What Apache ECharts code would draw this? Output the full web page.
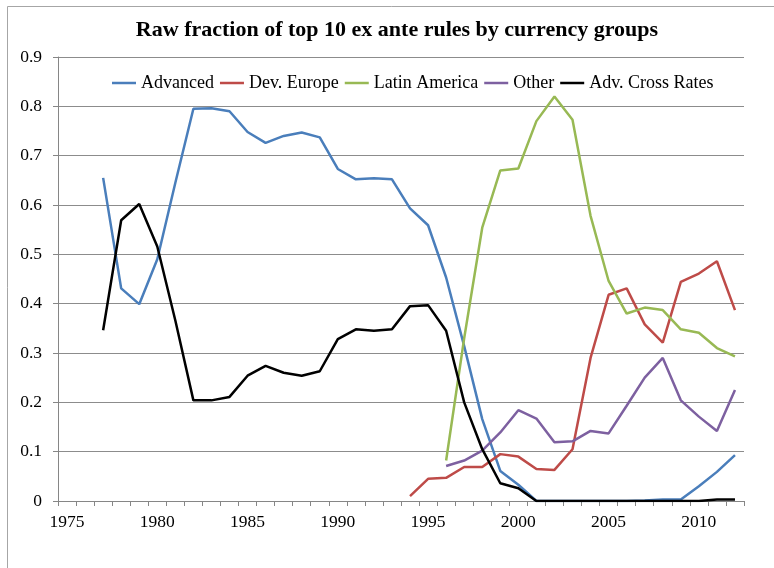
<!DOCTYPE html>
<html>
<head>
<meta charset="utf-8">
<script src="https://cdn.jsdelivr.net/npm/echarts@6/dist/echarts.min.js"></script>
<style>
  html, body { margin: 0; padding: 0; background: #fff; }
  #chart { width: 774px; height: 568px; }
</style>
</head>
<body>
<div id="chart"></div>
<script>
// years on the category axis
const years = [];
for (let y = 1975; y <= 2012; y++) years.push(String(y));

// values, 1975..2012 (null = no data)
const advanced = [null, null, 0.655, 0.431, 0.399, 0.49, 0.645, 0.795, 0.796, 0.79, 0.748, 0.726, 0.74, 0.747, 0.737,
  0.673, 0.652, 0.654, 0.652, 0.593, 0.559, 0.453, 0.314, 0.166, 0.061, 0.033, 0, 0, 0, 0, 0, 0, 0.001, 0.003, 0.003,
  0.03, 0.059, 0.093];
const devEurope = [null, null, null, null, null, null, null, null, null, null, null, null, null, null, null,
  null, null, null, null, 0.01, 0.045, 0.047, 0.069, 0.069, 0.095, 0.09, 0.065, 0.063, 0.105, 0.29, 0.418, 0.431,
  0.358, 0.321, 0.444, 0.461, 0.486, 0.387];
const latinAmerica = [null, null, null, null, null, null, null, null, null, null, null, null, null, null, null,
  null, null, null, null, null, null, 0.082, 0.33, 0.554, 0.67, 0.674, 0.77, 0.82, 0.773, 0.578, 0.446, 0.38,
  0.392, 0.387, 0.348, 0.341, 0.31, 0.293];
const other = [null, null, null, null, null, null, null, null, null, null, null, null, null, null, null,
  null, null, null, null, null, null, 0.071, 0.082, 0.102, 0.139, 0.184, 0.167, 0.119, 0.121, 0.142, 0.137, 0.193,
  0.25, 0.29, 0.204, 0.171, 0.142, 0.225];
const crossRates = [null, null, 0.346, 0.569, 0.602, 0.516, 0.366, 0.204, 0.204, 0.211, 0.254, 0.274, 0.26, 0.254,
  0.263, 0.328, 0.348, 0.345, 0.348, 0.395, 0.397, 0.345, 0.2, 0.105, 0.036, 0.026, 0, 0, 0, 0, 0, 0, 0, 0, 0, 0,
  0.003, 0.003];

const seriesNames = ["Advanced", "Dev. Europe", "Latin America", "Other", "Adv. Cross Rates"];
const seriesColors = ["#4a7ebb", "#be4b48", "#98b954", "#7d60a0", "#000000"];
const seriesData = [advanced, devEurope, latinAmerica, other, crossRates];

const font = "'Liberation Serif', 'Times New Roman', serif";

const chart = echarts.init(document.getElementById("chart"));
chart.setOption({
  backgroundColor: "#fff",
  animation: false,
  textStyle: { fontFamily: font },
  graphic: [{
    type: "rect",
    shape: { x: 7.5, y: 6.5, width: 900, height: 700 },
    style: { fill: "none", stroke: "#a6a6a6", lineWidth: 1 },
    silent: true
  }],
  title: {
    text: "Raw fraction of top 10 ex ante rules by currency groups",
    left: 392,
    textAlign: "center",
    top: 14,
    textStyle: { fontFamily: font, fontSize: 22, fontWeight: "bold", color: "#000" }
  },
  legend: {
    data: seriesNames,
    left: 107,
    top: 69,
    icon: "rect",
    itemWidth: 24,
    itemHeight: 2.5,
    itemGap: 6,
    textStyle: { fontFamily: font, fontSize: 18, color: "#000" }
  },
  grid: { left: 58, right: 30, top: 57, bottom: 67, containLabel: false },
  xAxis: {
    type: "category",
    data: years,
    boundaryGap: true,
    axisLine: { lineStyle: { color: "#868686", width: 1 } },
    axisTick: { show: true, interval: 0, length: 5, lineStyle: { color: "#868686" } },
    axisLabel: { interval: 4, margin: 12, fontSize: 17.5, color: "#000", fontFamily: font },
    splitLine: { show: false }
  },
  yAxis: {
    type: "value",
    min: 0,
    max: 0.9,
    interval: 0.1,
    axisLine: { show: true, lineStyle: { color: "#868686", width: 1 } },
    axisTick: { show: true, length: 5, lineStyle: { color: "#868686" } },
    axisLabel: { margin: 16, fontSize: 17.5, color: "#000", fontFamily: font },
    splitLine: { show: true, lineStyle: { color: "#8c8c8c", width: 1 } }
  },
  series: seriesNames.map((name, i) => ({
    name: name,
    type: "line",
    data: seriesData[i],
    symbol: "none",
    connectNulls: false,
    lineStyle: { width: 2.5, color: seriesColors[i] },
    itemStyle: { color: seriesColors[i] }
  }))
});
</script>
</body>
</html>
